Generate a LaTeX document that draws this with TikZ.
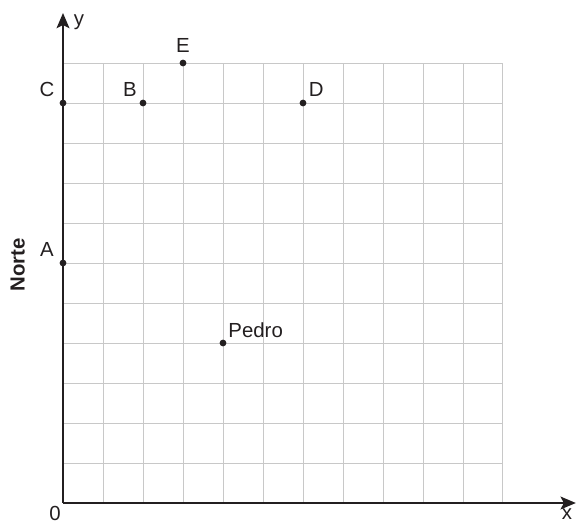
\documentclass[tikz,border=0pt]{standalone}
\usepackage{fontspec}
\setmainfont{Liberation Sans}
\usetikzlibrary{arrows.meta,calc}
\definecolor{gridgray}{RGB}{200,200,200}
\definecolor{axisgray}{RGB}{35,31,32}
\begin{document}
\begin{tikzpicture}[x=1cm,y=1cm,
  lbl/.style={font=\fontsize{14.5}{16}\selectfont, text=axisgray, inner sep=0pt},
  pt/.style={circle, fill=axisgray, inner sep=0pt, minimum size=0.17cm},
  axisline/.style={line width=1.4pt, draw=axisgray, -{Stealth[length=0.38cm,width=0.32cm,inset=0.08cm]}}]
\useasboundingbox (-1.575,-0.5) rectangle (12.825,12.575);
\draw[gridgray, line width=0.7pt] (0,0) grid (11,11);
\coordinate (O) at (0,0);
\coordinate (xend) at (12.82,0);
\coordinate (yend) at (0,12.25);
\draw[axisline] (O) -- (xend);
\draw[axisline] (O) -- (yend);
\node[pt] (C) at (0,10) {};
\node[pt] (B) at (2,10) {};
\node[pt] (E) at (3,11) {};
\node[pt] (D) at (6,10) {};
\node[pt] (A) at (0,6) {};
\node[pt] (P) at (4,4) {};
\node[lbl] (lC) at ($(C)+(-0.4,0.33)$) {C};
\node[lbl] (lB) at ($(B)+(-0.33,0.33)$) {B};
\node[lbl] (lE) at ($(E)+(0,0.43)$) {E};
\node[lbl] (lD) at ($(D)+(0.33,0.35)$) {D};
\node[lbl] (lA) at ($(A)+(-0.4,0.35)$) {A};
\node[lbl, anchor=west] (lP) at ($(P)+(0.13,0.33)$) {Pedro};
\node[lbl] (ly) at (0.4,12.03) {y};
\node[lbl] (lx) at (12.6,-0.28) {x};
\node[lbl] (l0) at (-0.2,-0.27) {0};
\node[lbl, rotate=90, font=\fontsize{14.5}{16}\selectfont\bfseries] (norte) at (-1.13,5.95) {Norte};
\end{tikzpicture}
\end{document}
